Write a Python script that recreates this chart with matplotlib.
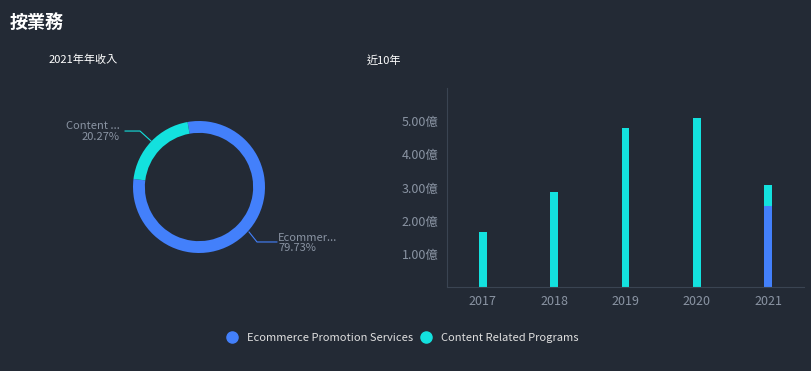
import numpy as np
import matplotlib.pyplot as plt
from matplotlib.lines import Line2D

plt.rcParams['font.family'] = ['Noto Sans CJK TC', 'DejaVu Sans']

# Data
years = ['2017', '2018', '2019', '2020', '2021']
ecommerce = [0, 0, 0, 0, 2.45]
content = [1.65, 2.87, 4.80, 5.10, 0.62]
pie_labels = ['Ecommer...', 'Content ...']
pie_shares = [79.73, 20.27]
series_names = ['Ecommerce Promotion Services', 'Content Related Programs']
y_ticks = [1, 2, 3, 4, 5]

bg = '#232a35'
blue = '#4380fb'
cyan = '#13e1de'
gray = '#8a94a3'

fig = plt.figure(figsize=(8.11, 3.71), dpi=100, facecolor=bg)

fig.text(10 / 811, 1 - 22 / 371, '按業務', color='white', fontsize=13, fontweight='bold', va='center')
fig.text(49 / 811, 1 - 60 / 371, '2021年年收入', color='white', fontsize=8, va='center')
fig.text(367 / 811, 1 - 60 / 371, '近10年', color='white', fontsize=8, va='center')

# Donut
ax1 = fig.add_axes([100 / 811, 85 / 371, 198 / 811, 198 / 371])
ax1.set_facecolor(bg)
ax1.pie(pie_shares, colors=[blue, cyan], startangle=100, counterclock=False,
        radius=1, wedgeprops=dict(width=0.18, edgecolor='none'))
ax1.set_xlim(-1.5, 1.5)
ax1.set_ylim(-1.5, 1.5)
ax1.set_aspect('equal')
ax1.axis('off')

ax1.plot([0.758, 0.879, 1.18], [-0.682, -0.833, -0.833], color=blue, lw=0.8, clip_on=False)
ax1.text(1.197, -0.773, pie_labels[0], color=gray, fontsize=8, ha='left', va='center')
ax1.text(1.197, -0.924, f'{pie_shares[0]:.2f}%', color=gray, fontsize=8, ha='left', va='center')
ax1.plot([-0.727, -0.894, -1.12], [0.697, 0.848, 0.848], color=cyan, lw=0.8, clip_on=False)
ax1.text(-1.197, 0.924, pie_labels[1], color=gray, fontsize=8, ha='right', va='center')
ax1.text(-1.197, 0.758, f'{pie_shares[1]:.2f}%', color=gray, fontsize=8, ha='right', va='center')

# Bars
ax2 = fig.add_axes([447 / 811, 1 - 287 / 371, 357 / 811, 199 / 371])
ax2.set_facecolor(bg)
x = np.arange(len(years))
ax2.bar(x, ecommerce, width=0.11, color=blue)
ax2.bar(x, content, width=0.11, bottom=ecommerce, color=cyan)
ax2.set_xlim(-0.5, len(years) - 0.5)
ax2.set_ylim(0, 6)
ax2.set_xticks(x)
ax2.set_xticklabels(years)
ax2.set_yticks(y_ticks)
ax2.set_yticklabels([f'{v:.2f}億' for v in y_ticks])
ax2.tick_params(colors=gray, labelsize=9, length=0, pad=6)
for s in ['top', 'right']:
    ax2.spines[s].set_visible(False)
for s in ['left', 'bottom']:
    ax2.spines[s].set_color('#3a4452')
    ax2.spines[s].set_linewidth(0.8)

handles = [Line2D([], [], marker='o', ls='', color=c, markersize=8) for c in [blue, cyan]]
leg = fig.legend(handles, series_names, loc='center', bbox_to_anchor=(402 / 811, 1 - 338 / 371),
                 ncol=2, frameon=False, fontsize=8, labelcolor='#e0e0e0',
                 handletextpad=0.7, columnspacing=0.6, handlelength=1.2)

fig.savefig('out.png', dpi=100, facecolor=bg)
